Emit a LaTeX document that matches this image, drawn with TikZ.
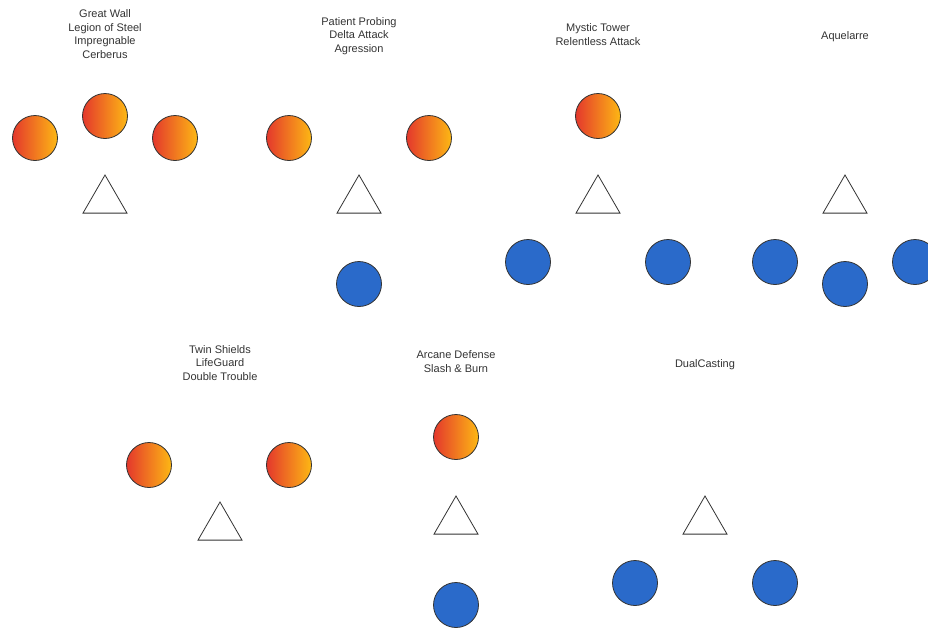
\documentclass[tikz,border=0pt]{standalone}
\usepackage{fontspec}
\setmainfont{Liberation Sans}
\usetikzlibrary{positioning,shapes.geometric}
\definecolor{ballred}{RGB}{228,56,44}
\definecolor{ballgold}{RGB}{253,184,20}
\definecolor{ballblue}{RGB}{42,106,202}
\definecolor{inkgray}{RGB}{51,51,51}

\begin{document}
\begin{tikzpicture}[
    x=1pt, y=-1pt,
    every node/.style={font=\fontsize{11}{13.4}\selectfont},
    label/.style={text=inkgray, align=center, inner sep=0pt},
    hotball/.style={
        circle, draw=inkgray, line width=0.8pt, minimum size=45pt, inner sep=0pt,
        left color=ballred, right color=ballgold
    },
    coldball/.style={
        circle, draw=inkgray, line width=0.8pt, minimum size=45pt, inner sep=0pt,
        fill=ballblue
    },
    tri/.style={
        regular polygon, regular polygon sides=3, draw=inkgray, line width=0.8pt,
        minimum size=50.8pt, inner sep=0pt, fill=white
    }
]
\useasboundingbox (0,0) rectangle (928,627);

% group 1
\node[label] (L1) at (105,34) {Great Wall\\Legion of Steel\\Impregnable\\Cerberus};
\node[hotball] (H1a) at (35,138) {};
\node[hotball] (H1b) at (105,116) {};
\node[hotball] (H1c) at (175,138) {};
\node[tri] (T1) at (105,200.4) {};

% group 2
\node[label] (L2) at (359,36) {Patient Probing\\Delta Attack\\Agression};
\node[hotball] (H2a) at (289,138) {};
\node[hotball] (H2b) at (429,138) {};
\node[tri] (T2) at (359,200.4) {};
\node[coldball] (C2a) at (359,284) {};

% group 3
\node[label] (L3) at (598,34.5) {Mystic Tower\\Relentless Attack};
\node[hotball] (H3a) at (598,116) {};
\node[tri] (T3) at (598,200.4) {};
\node[coldball] (C3a) at (528,262) {};
\node[coldball] (C3b) at (668,262) {};

% group 4
\node[label] (L4) at (845,36.5) {Aquelarre};
\node[tri] (T4) at (845,200.4) {};
\node[coldball] (C4a) at (775,262) {};
\node[coldball] (C4b) at (845,284) {};
\node[coldball] (C4c) at (915,262) {};

% group 5
\node[label] (L5) at (220,363) {Twin Shields\\LifeGuard\\Double Trouble};
\node[hotball] (H5a) at (149,465) {};
\node[hotball] (H5b) at (289,465) {};
\node[tri] (T5) at (220,527.4) {};

% group 6
\node[label] (L6) at (456,361.5) {Arcane Defense\\Slash \& Burn};
\node[hotball] (H6a) at (456,437) {};
\node[tri] (T6) at (456,521.4) {};
\node[coldball] (C6a) at (456,605) {};

% group 7
\node[label] (L7) at (705,364.5) {DualCasting};
\node[tri] (T7) at (705,521.4) {};
\node[coldball] (C7a) at (635,583) {};
\node[coldball] (C7b) at (775,583) {};

\end{tikzpicture}
\end{document}
